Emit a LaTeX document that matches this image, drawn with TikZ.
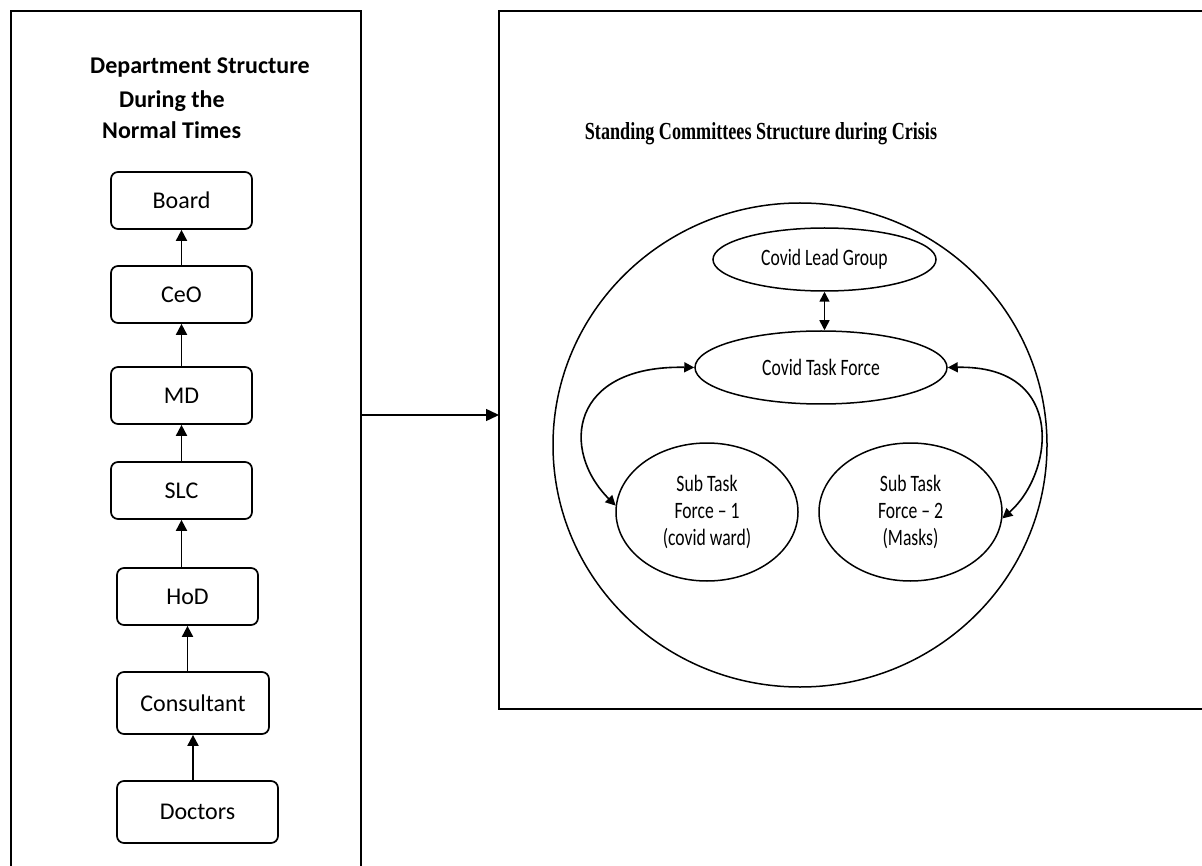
\documentclass[tikz,border=0pt]{standalone}
\usepackage{fontspec}
\setmainfont{Carlito}
\newfontfamily\narrowfont{Carlito}[FakeStretch=0.75]
\newfontfamily\headserif{Liberation Serif}[FakeStretch=0.74]
\usetikzlibrary{arrows.meta,shapes.geometric}

\begin{document}
\begin{tikzpicture}[x=1pt,y=-1pt,
  panel/.style={draw,line width=1.5pt,inner sep=0pt,outer sep=0pt},
  rank/.style={draw,line width=1.7pt,rounded corners=7pt,inner sep=0pt,
    minimum width=141pt,minimum height=57pt,font=\fontsize{24}{28}\selectfont},
  oval/.style={ellipse,draw,line width=1.5pt,inner sep=0pt,align=center,
    font=\narrowfont\fontsize{23.5}{27}\selectfont},
  up/.style={-{Triangle[length=11pt,width=11pt]},line width=1.8pt},
  both/.style={{Triangle[length=10pt,width=10pt]}-{Triangle[length=10pt,width=10pt]},line width=1.6pt},
  heading/.style={font=\bfseries\fontsize{24}{28}\selectfont,anchor=base west,inner sep=0pt}]
\useasboundingbox (0,0) rectangle (1202,866);
\clip (0,0) rectangle (1202,866);

% the two panels
\node[panel,minimum width=350pt,minimum height=880pt] (normal) at (186,451) {};
\node[panel,minimum width=720pt,minimum height=698pt] (crisis) at (859,360) {};
\coordinate (link) at (0,415);
\draw[-{Triangle[length=13pt,width=12pt]},line width=1.5pt] (normal.east |- link) -- (crisis.west |- link);

% normal-times hierarchy
\node[heading] (h1) at (90,74) {Department Structure};
\node[heading] (h2) at (119,107.5) {During the};
\node[heading] (h3) at (102,139) {Normal Times};

\node[rank] (board) at (181.5,200.5) {Board};
\node[rank] (ceo) at (181.5,294.5) {CeO};
\node[rank] (md) at (181.5,395.5) {MD};
\node[rank] (slc) at (181.5,490.5) {SLC};
\node[rank] (hod) at (187.5,596.5) {HoD};
\node[rank,minimum width=152pt,minimum height=62pt] (cons) at (193,703) {Consultant};
\node[rank,minimum width=161pt,minimum height=62pt] (docs) at (197.5,812) {Doctors};

\draw[up] (ceo.north) -- (board.south);
\draw[up] (md.north) -- (ceo.south);
\draw[up] (slc.north) -- (md.south);
\draw[up] (hod.north -| slc.south) -- (slc.south);
\draw[up] (cons.north -| hod.south) -- (hod.south);
\draw[up] (docs.north -| cons.south) -- (cons.south);

% crisis committees
\node[font=\headserif\bfseries\fontsize{24.5}{28}\selectfont,anchor=base,inner sep=0pt] (ctitle) at (761,139.5)
  {Standing Committees Structure during Crisis};

\node[ellipse,draw,line width=1.5pt,minimum width=494pt,minimum height=484pt,inner sep=0pt] (ring) at (800,445) {};
\node[oval,minimum width=223pt,minimum height=63pt] (lead) at (824.5,259.5) {Covid Lead Group};
\node[oval,minimum width=252pt,minimum height=73pt] (task) at (821,367.5) {Covid Task Force};
\node[oval,minimum width=182pt,minimum height=138pt] (sub1) at (707,512) {Sub Task\\Force – 1\\(covid ward)};
\node[oval,minimum width=183pt,minimum height=138pt] (sub2) at (910.5,512) {Sub Task\\Force – 2\\(Masks)};

\draw[both] (lead.south) -- (task.north -| lead.south);
\draw[both] (task.west) .. controls (570,365) and (560,450) .. (sub1.176);
\draw[both] (task.east) .. controls (1067,365) and (1054,473) .. (sub2.356);
\end{tikzpicture}
\end{document}
